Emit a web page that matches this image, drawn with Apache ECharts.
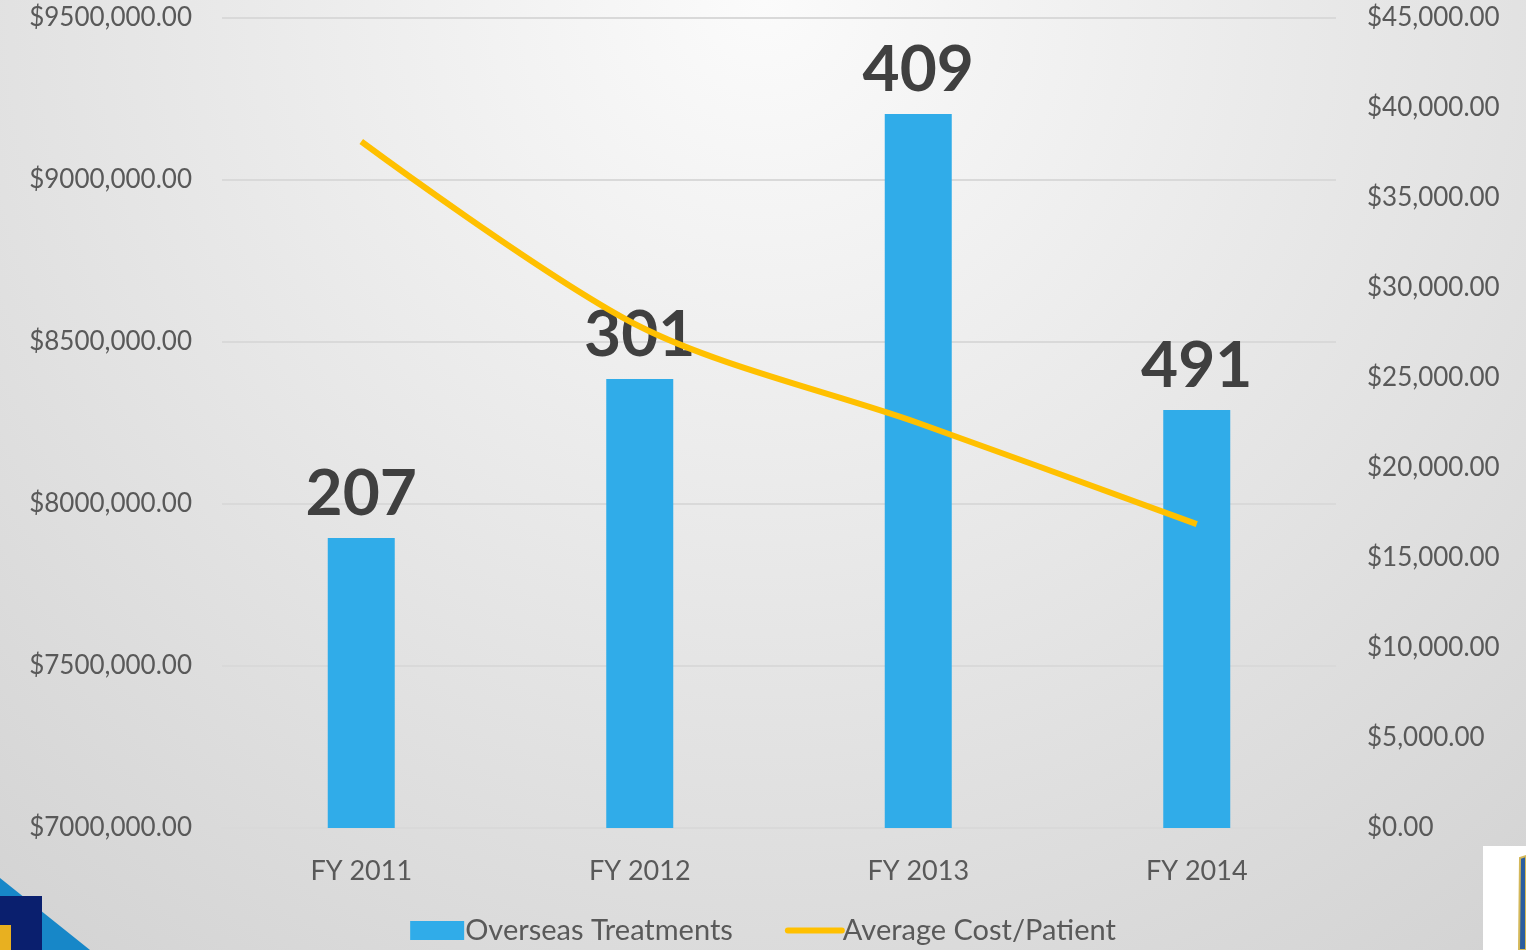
<!DOCTYPE html>
<html>
<head>
<meta charset="utf-8">
<script src="https://cdn.jsdelivr.net/npm/echarts@6/dist/echarts.min.js"></script>
<style>
  html, body { margin: 0; padding: 0; }
  #main { width: 1526px; height: 950px; }
</style>
</head>
<body>
<div id="main"></div>
<script>
// data
var years = ['FY 2011', 'FY 2012', 'FY 2013', 'FY 2014'];
var treatmentCost = [7895000, 8386000, 9204000, 8290000];
var patients = [207, 301, 409, 491];
var avgCost = [38140, 27860, 22500, 16880];

var font = 'Lato, "Open Sans", sans-serif';

var chart = echarts.init(document.getElementById('main'));

chart.setOption({
    backgroundColor: {
        type: 'radial', x: 0.5, y: 0, r: 1.3,
        colorStops: [
            { offset: 0, color: '#fbfbfb' },
            { offset: 1, color: '#d2d2d2' }
        ]
    },
    grid: { left: 222, right: 190, top: 18, bottom: 122 },
    legend: {
        bottom: 0,
        left: 'center',
        itemWidth: 54,
        itemHeight: 19,
        itemGap: 52,
        textStyle: { fontFamily: font, fontSize: 29, color: '#595959', padding: [0, 0, 0, -4] },
        data: [
            { name: 'Overseas Treatments', icon: 'rect' },
            {
                name: 'Average Cost/Patient',
                itemStyle: { opacity: 0 },
                lineStyle: { width: 6, cap: 'round' }
            }
        ]
    },
    xAxis: {
        type: 'category',
        data: years,
        axisTick: { show: false },
        axisLine: { lineStyle: { color: '#d9d9d9', width: 2 } },
        axisLabel: { fontFamily: font, fontSize: 27, color: '#595959', margin: 30 }
    },
    yAxis: [
        {
            type: 'value',
            min: 7000000,
            max: 9500000,
            interval: 500000,
            axisLine: { show: false },
            axisTick: { show: false },
            splitLine: { lineStyle: { color: '#d9d9d9', width: 2 } },
            axisLabel: {
                fontFamily: font, fontSize: 26, color: '#595959', margin: 30,
                formatter: function (v) { return '$' + (v / 1000) + ',000.00'; }
            }
        },
        {
            type: 'value',
            min: 0,
            max: 45000,
            interval: 5000,
            axisLine: { show: false },
            axisTick: { show: false },
            splitLine: { show: false },
            axisLabel: {
                fontFamily: font, fontSize: 26, color: '#595959', margin: 31,
                formatter: function (v) {
                    return '$' + (v === 0 ? '0' : (v / 1000) + ',000') + '.00';
                }
            }
        }
    ],
    series: [
        {
            name: 'Overseas Treatments',
            type: 'bar',
            barWidth: 67,
            z: 2,
            itemStyle: { color: '#30ace9' },
            data: treatmentCost,
            label: {
                show: true,
                position: 'top',
                distance: 12,
                fontFamily: font,
                fontWeight: 'bold',
                fontSize: 64,
                color: '#404040',
                formatter: function (p) { return patients[p.dataIndex]; }
            }
        },
        {
            name: 'Average Cost/Patient',
            type: 'line',
            yAxisIndex: 1,
            z: 5,
            smooth: 0.3,
            symbol: 'none',
            lineStyle: { color: '#ffc000', width: 6 },
            itemStyle: { color: '#ffc000' },
            data: avgCost
        }
    ],
    graphic: [
        { type: 'polygon', shape: { points: [[0, 878], [90, 950], [0, 950]] }, style: { fill: '#1787c8' } },
        { type: 'rect', shape: { x: 0, y: 896, width: 42, height: 54 }, style: { fill: '#0a1f6e' } },
        { type: 'rect', shape: { x: 0, y: 925, width: 11, height: 25 }, style: { fill: '#e8b020' } },
        { type: 'rect', shape: { x: 1483, y: 846, width: 43, height: 104 }, style: { fill: '#ffffff' } },
        { type: 'polygon', shape: { points: [[1520, 858], [1526, 856], [1526, 950], [1519, 950]] }, style: { fill: '#2a5d9f', stroke: '#d4b85a', lineWidth: 2 } }
    ]
});
</script>
</body>
</html>
